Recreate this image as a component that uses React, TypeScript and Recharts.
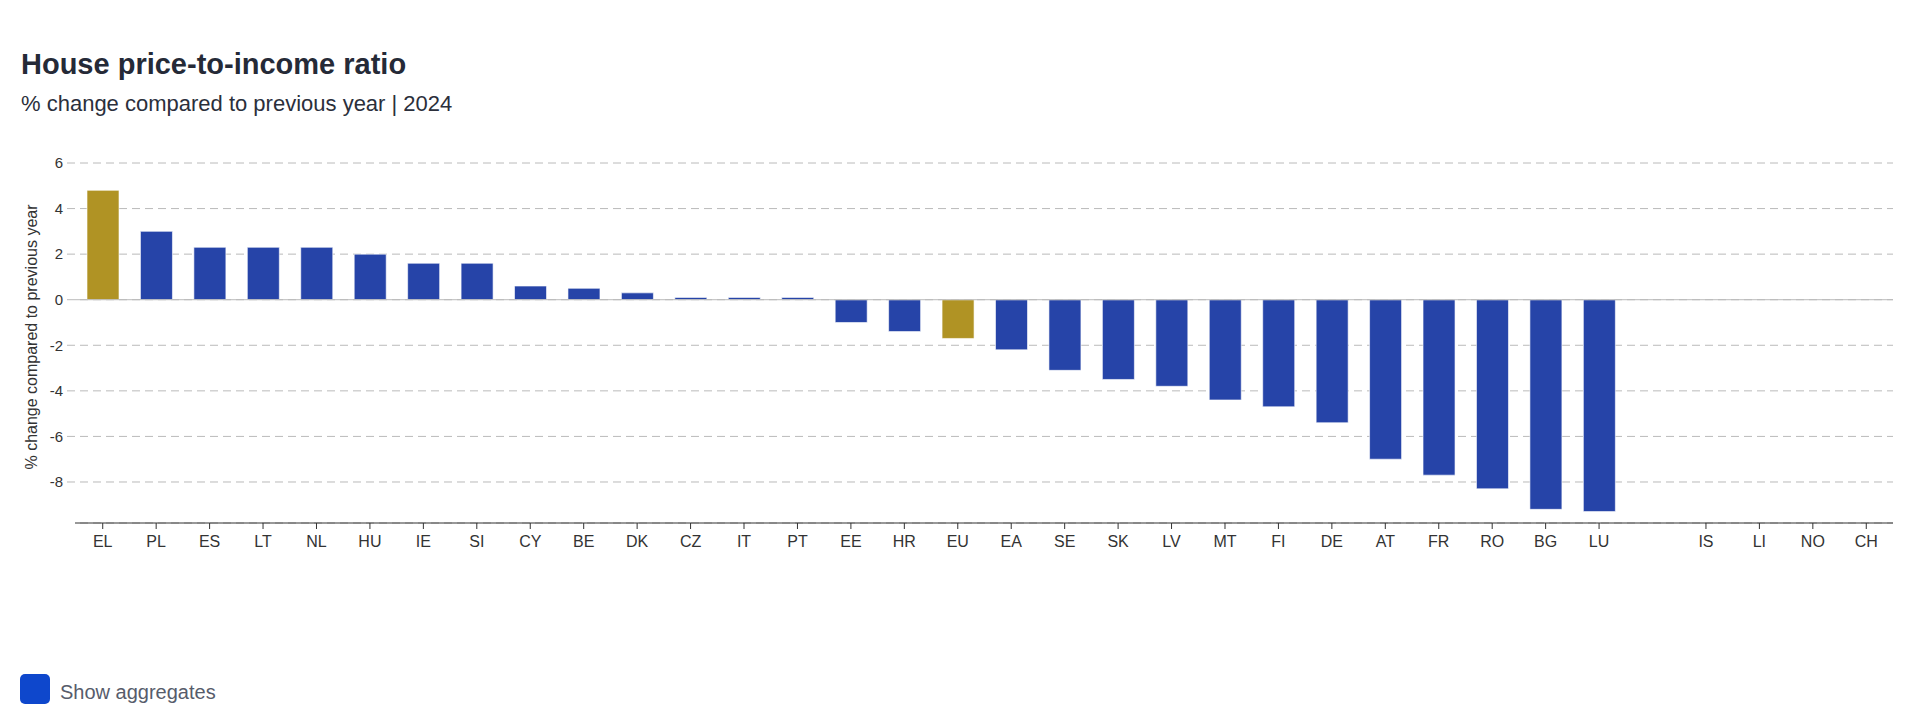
import React from 'react';
import { BarChart, Bar, XAxis, YAxis, CartesianGrid, ReferenceLine, Cell } from 'recharts';

const categories = ['EL','PL','ES','LT','NL','HU','IE','SI','CY','BE','DK','CZ','IT','PT','EE','HR','EU','EA','SE','SK','LV','MT','FI','DE','AT','FR','RO','BG','LU',' ','IS','LI','NO','CH'];
const values: (number | null)[] = [4.8,3.0,2.3,2.3,2.3,2.0,1.6,1.6,0.6,0.5,0.3,0.1,0.1,0.1,-1.0,-1.4,-1.7,-2.2,-3.1,-3.5,-3.8,-4.4,-4.7,-5.4,-7.0,-7.7,-8.3,-9.2,-9.3,null,null,null,null,null];
const highlighted = ['EL', 'EU'];
const yTicks = [-8, -6, -4, -2, 0, 2, 4, 6];

const title = 'House price-to-income ratio';
const subtitle = '% change compared to previous year | 2024';
const yLabel = '% change compared to previous year';
const toggleLabel = 'Show aggregates';

const data = categories.map((c, i) => ({ name: c, value: values[i] }));

const FONT = "Arial, 'Liberation Sans', Helvetica, sans-serif";
const BLUE = '#2644a8';
const GOLD = '#b09324';
const GRID = '#bababa';

const XTick = (props: any) => {
  const { x, y, payload } = props;
  const label = String(payload.value);
  if (label.trim() === '') return null;
  return (
    <g>
      <line x1={x} x2={x} y1={y - 6} y2={y} stroke="#333" strokeWidth={1} />
      <text x={x} y={y + 18} textAnchor="middle" fontSize={16} fill="#333" fontFamily={FONT}>
        {label}
      </text>
    </g>
  );
};

export default function App() {
  return (
    <div style={{ position: 'absolute', left: 0, top: 0, width: 1920, height: 727, background: '#fff', fontFamily: FONT }}>
      <div style={{ position: 'absolute', left: 21, top: 47, fontSize: 29, fontWeight: 700, color: '#252a37', whiteSpace: 'nowrap', lineHeight: '34px' }}>
        {title}
      </div>
      <div style={{ position: 'absolute', left: 21, top: 91, fontSize: 22, color: '#2b2f3b', whiteSpace: 'nowrap', lineHeight: '26px' }}>
        {subtitle}
      </div>
      <div style={{ position: 'absolute', left: 32, top: 337, width: 0, height: 0 }}>
        <div style={{ position: 'absolute', left: 0, top: 0, transform: 'translate(-50%, -50%) rotate(-90deg)', fontSize: 16, color: '#333', whiteSpace: 'nowrap', lineHeight: '18px' }}>
          {yLabel}
        </div>
      </div>
      <div style={{ position: 'absolute', left: 0, top: 0 }}>
        <BarChart width={1920} height={600} data={data} margin={{ top: 163, right: 27, bottom: 37, left: 0 }} barSize={32}>
          <CartesianGrid vertical={false} stroke={GRID} strokeDasharray="8 5" strokeDashoffset={8} />
          <XAxis
            dataKey="name"
            interval={0}
            height={40}
            padding={{ left: 1, right: 0 }}
            tickSize={6}
            tickMargin={0}
            tickLine={false}
            axisLine={{ stroke: '#333', strokeWidth: 1 }}
            tick={<XTick />}
          />
          <YAxis
            width={75}
            domain={[-9.8, 6]}
            ticks={yTicks}
            allowDataOverflow
            axisLine={false}
            tickLine={{ stroke: GRID, strokeWidth: 1 }}
            tickSize={8}
            tickMargin={4}
            tick={{ fontSize: 15, fill: '#333', fontFamily: FONT }}
          />
          <ReferenceLine y={0} stroke={GRID} strokeWidth={1} />
          <Bar dataKey="value" isAnimationActive={false} stroke="#ffffff" strokeOpacity={0.6} strokeWidth={1}>
            {data.map((d) => (
              <Cell key={d.name} fill={highlighted.includes(d.name) ? GOLD : BLUE} />
            ))}
          </Bar>
        </BarChart>
      </div>
      <div style={{ position: 'absolute', left: 20, top: 674, width: 30, height: 30, borderRadius: 5, background: '#0e47cc' }} />
      <div style={{ position: 'absolute', left: 60, top: 680, fontSize: 20, color: '#575c6b', whiteSpace: 'nowrap', lineHeight: '24px' }}>
        {toggleLabel}
      </div>
    </div>
  );
}
